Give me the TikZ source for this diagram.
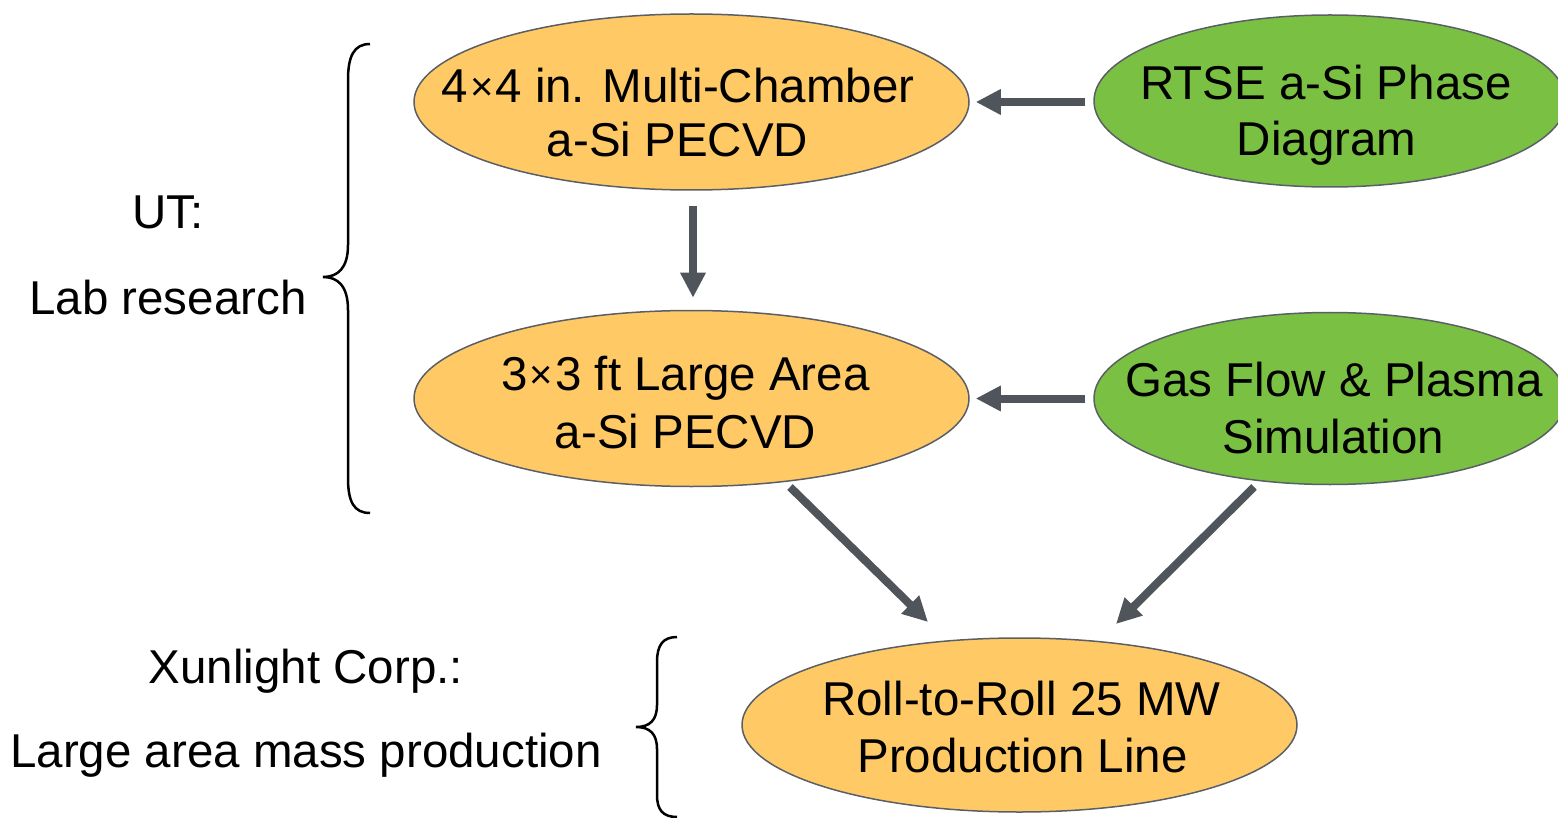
\documentclass[tikz,border=0pt]{standalone}
\usepackage{fontspec}
\setmainfont{Liberation Sans}
\usetikzlibrary{shapes.geometric,arrows.meta,calc}
\definecolor{orangefill}{HTML}{FFC966}
\definecolor{greenfill}{HTML}{7AC143}
\definecolor{edgegray}{HTML}{5A5F66}
\definecolor{arrowgray}{HTML}{50555C}
\newcommand\smallx{{\kern2pt\fontsize{40}{40}\selectfont\raisebox{2pt}{×}\kern2pt}}
\tikzset{
  ell/.style={ellipse, draw=edgegray, line width=1.5pt, inner sep=0pt, minimum width=555pt, minimum height=176pt},
  orangeell/.style={ell, fill=orangefill},
  greenell/.style={ell, fill=greenfill, minimum width=472pt, minimum height=172pt},
  txt/.style={anchor=base, inner sep=0pt, font=\fontsize{47.5}{56}\selectfont},
  arr/.style={draw=arrowgray, line width=8pt, -{Triangle[length=25pt,width=24pt]}},
  brace/.style={draw=black, line width=2.5pt}
}
\begin{document}
\begin{tikzpicture}[x=1pt,y=-1pt]
\useasboundingbox (0,0) rectangle (1558,818);
\clip (0,0) rectangle (1558,818);
% ellipses
\node[orangeell] (o1) at (691.5,102) {};
\node[orangeell] (o2) at (691.5,398.5) {};
\node[greenell] (g1) at (1330,101) {};
\node[greenell] (g2) at (1330,398.5) {};
\node[orangeell, minimum height=174pt] (o3) at (1019.5,725) {};
% ellipse texts
\node[txt] (o1a) at (678,103) {4\smallx4 in. Multi-Chamber};
\node[txt] (o1b) at (677.5,157) {a-Si PECVD};
\node[txt] (g1a) at (1326,100) {RTSE a-Si Phase};
\node[txt] (g1b) at (1326.5,156) {Diagram};
\node[txt] (o2a) at (685.5,390) {3\smallx3 ft Large Area};
\node[txt] (o2b) at (685.5,448) {a-Si PECVD};
\node[txt] (g2a) at (1334,396) {Gas Flow \& Plasma};
\node[txt] (g2b) at (1333.5,453) {Simulation};
\node[txt] (o3a) at (1021.5,715) {Roll-to-Roll 25 MW};
\node[txt] (o3b) at (1022.5,772) {Production Line};
% side labels
\node[txt] (ut) at (168,229) {UT:};
\node[txt] (lab) at (168,315) {Lab research};
\node[txt] (xun) at (306,683) {Xunlight Corp.:};
\node[txt] (mass) at (306,767) {Large area mass production};
% arrows
\draw[arr] ([xshift=-8pt]g1.west |- o1.east) -- ([xshift=6pt]o1.east);
\draw[arr] ([xshift=-8pt]g2.west |- o2.east) -- ([xshift=6pt]o2.east);
\draw[arr] ([xshift=1.5pt,yshift=-15pt]o1.south) -- ([xshift=1.5pt,yshift=12pt]o2.north);
\draw[arr] ($(o2.center)+(98.5,88.5)$) -- ($(o3.center)+(-91.5,-103)$);
\draw[arr] ($(g2.center)+(-76,88.5)$) -- ($(o3.center)+(96.5,-101)$);
% braces
\draw[brace] (370,44) .. controls (354,44) and (348,56) .. (348,80) -- (348,245)
  .. controls (348,268) and (338,277) .. (323,277)
  .. controls (338,277) and (348,286) .. (348,310) -- (348,478)
  .. controls (348,502) and (354,513) .. (370,513);
\draw[brace] (677,637) .. controls (663,637) and (657,645) .. (657,662) -- (657,705)
  .. controls (657,720) and (650,727) .. (636,727)
  .. controls (650,727) and (657,734) .. (657,749) -- (657,795)
  .. controls (657,810) and (663,817) .. (677,817);
\end{tikzpicture}
\end{document}
